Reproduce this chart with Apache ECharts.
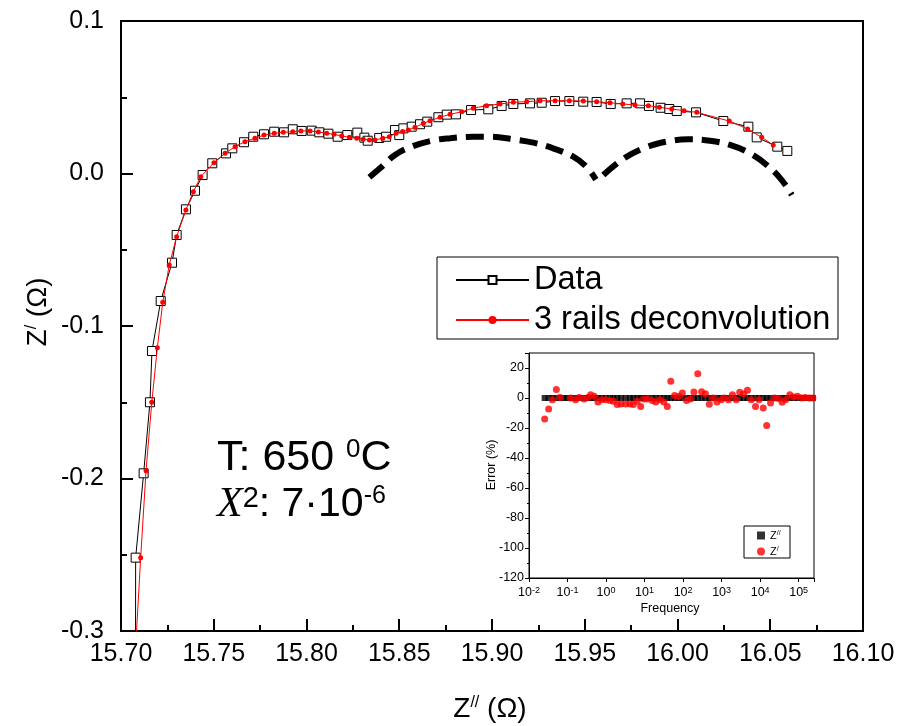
<!DOCTYPE html>
<html><head><meta charset="utf-8">
<script src="https://cdn.jsdelivr.net/npm/echarts@6/dist/echarts.min.js"></script>
<style>html,body{margin:0;padding:0;background:#fff}#c{width:908px;height:726px}</style>
</head><body><div id="c"></div>
<script>
// ---- Main Nyquist data (Z'' , Z') ----
const dataX = [15.7078,15.7079,15.7122,15.7156,15.7167,15.7214,15.7275,15.7300,15.7350,15.7399,15.7440,15.7492,15.7566,15.7600,15.7663,15.7713,15.7771,15.7826,15.7879,15.7926,15.7974,15.8028,15.8069,15.8118,15.8168,15.8220,15.8274,15.8312,15.8330,15.8392,15.8429,15.8477,15.8500,15.8522,15.8567,15.8612,15.8651,15.8711,15.8756,15.8806,15.8887,15.8980,15.9052,15.9115,15.9205,15.9268,15.9340,15.9417,15.9492,15.9564,15.9640,15.9726,15.9798,15.9846,15.9909,15.9956,15.9996,16.0100,16.0247,16.0382,16.0427,16.0538,16.0592];
const dataY = [-0.3300,-0.2519,-0.1966,-0.1500,-0.1164,-0.0836,-0.0585,-0.0403,-0.0235,-0.0113,-0.0010,0.0067,0.0132,0.0165,0.0205,0.0241,0.0257,0.0274,0.0270,0.0290,0.0279,0.0281,0.0270,0.0261,0.0241,0.0252,0.0268,0.0235,0.0215,0.0233,0.0241,0.0285,0.0252,0.0296,0.0307,0.0323,0.0340,0.0369,0.0386,0.0388,0.0416,0.0421,0.0443,0.0456,0.0460,0.0464,0.0475,0.0475,0.0471,0.0469,0.0456,0.0460,0.0460,0.0443,0.0431,0.0423,0.0410,0.0401,0.0344,0.0307,0.0237,0.0176,0.0148];
const fitX = [15.7078,15.7106,15.7135,15.7166,15.7196,15.7225,15.7260,15.7300,15.7350,15.7390,15.7430,15.7501,15.7561,15.7615,15.7668,15.7722,15.7771,15.7826,15.7875,15.7926,15.7970,15.8019,15.8064,15.8109,15.8148,15.8190,15.8231,15.8271,15.8306,15.8339,15.8369,15.8411,15.8446,15.8483,15.8518,15.8549,15.8585,15.8630,15.8666,15.8720,15.8774,15.8837,15.8899,15.8971,15.9043,15.9115,15.9187,15.9259,15.9340,15.9417,15.9492,15.9564,15.9636,15.9705,15.9771,15.9843,15.9902,15.9969,16.0035,16.0104,16.0279,16.0378,16.0454,16.0516];
const fitY = [-0.3125,-0.2519,-0.1949,-0.1500,-0.1142,-0.0845,-0.0600,-0.0414,-0.0239,-0.0119,-0.0021,0.0071,0.0132,0.0176,0.0209,0.0231,0.0252,0.0264,0.0270,0.0274,0.0279,0.0279,0.0272,0.0264,0.0257,0.0246,0.0237,0.0231,0.0224,0.0220,0.0220,0.0231,0.0241,0.0264,0.0275,0.0285,0.0303,0.0329,0.0346,0.0369,0.0388,0.0405,0.0428,0.0445,0.0456,0.0467,0.0471,0.0477,0.0477,0.0477,0.0475,0.0471,0.0464,0.0456,0.0449,0.0445,0.0434,0.0423,0.0412,0.0401,0.0344,0.0292,0.0237,0.0187];
// deconvolution arcs (dashed)
const arc1X = [15.8339,15.8396,15.8477,15.8567,15.8675,15.8774,15.8899,15.8989,15.9115,15.9223,15.9330,15.9438,15.9511,15.9560];
const arc1Y = [-0.0025,0.0034,0.0121,0.0176,0.0215,0.0231,0.0241,0.0241,0.0224,0.0202,0.0165,0.0110,0.0041,-0.0040];
const arc2X = [15.9600,15.9699,15.9816,15.9942,16.0058,16.0175,16.0283,16.0391,16.0481,16.0562,16.0616];
const arc2Y = [-0.0010,0.0089,0.0165,0.0209,0.0224,0.0215,0.0187,0.0132,0.0056,-0.0043,-0.0141];
const xTickLabels = ['15.70','15.75','15.80','15.85','15.90','15.95','16.00','16.05','16.10'];

// ---- Inset: error (%) vs frequency ----
const freq = [0.0255,0.0324,0.0403,0.0513,0.0637,0.120,0.162,0.200,0.269,0.339,0.398,0.490,0.617,0.776,0.977,1.26,1.55,1.95,2.45,3.24,4.17,5.13,6.46,7.94,9.55,11.7,15.8,19.5,25.1,31.6,38.9,47.9,60.3,77.6,95.5,123,155,191,240,302,380,479,603,759,977,1175,1514,1905,2399,2951,3715,4677,5888,7586,9333,12023,14791,18621,23442,30200,37154,45709,58884,74131,93325,120226,147911,190546,234423];
const errZp = [-14,-7.3,-1.1,5.6,0.4,0,-1.1,0.4,-0.7,0.4,2.2,1.1,-2.7,-1.1,-1.1,-1.6,-2.2,-4.4,-4,-4,-4,-4.4,-2.2,-5.6,-0.7,-0.7,-1.6,-2.7,-1.1,-2.7,-5.6,11.1,1.6,1.1,3.3,-1.6,-0.7,4,16.2,4.2,2.9,-4.2,0,-2.7,-1.1,0,-1.1,2.2,-1.1,3.8,2.7,5.1,-1.1,-5.6,-1.1,-6.7,-18.4,-3.3,0,-0.4,-2.9,-1.1,2.2,0.7,1.1,0,0.4,0,0];
const freqZpp = [0.0255,0.0324,0.0403,0.0513,0.0637,0.079,0.098,0.120,0.162,0.200,0.269,0.339,0.398,0.490,0.617,0.776,0.977,1.26,1.55,1.95,2.45,3.24,4.17,5.13,6.46,7.94,9.55,11.7,15.8,19.5,25.1,31.6,38.9,47.9,60.3,77.6,95.5,123,155,191,240,302,380,479,603,759,977,1175,1514,1905,2399,2951,3715,4677,5888,7586,9333,12023,14791,18621,23442,30200,37154,45709,58884,74131,93325,120226,147911,190546,234423];
const errZpp = [0,0,0,0,0,0,0,0,0,0,0,0,0,0,0,0,0,0,0,0,0,0,0,0,0,0,0,0,0,0,0,0,0,0,0,0,0,0,0,0,0,0,0,0,0,0,0,0,0,0,0,0,0,0,0,0,0,0,0,0,0,0,0,0,0,0,0,0,0,0,0];

const F = "'Liberation Sans', Arial, sans-serif";
const pair = (xs, ys) => xs.map((x, i) => [x, ys[i]]);

const chart = echarts.init(document.getElementById('c'), null, {renderer: 'canvas'});
const mainTick = {color: '#000', width: 2};
const option = {
  animation: false,
  backgroundColor: '#fff',
  grid: [
    {left: 121, top: 21, width: 742, height: 610, show: true, borderColor: '#000', borderWidth: 2},
    {left: 529, top: 353, width: 285, height: 225, show: true, borderColor: '#000', borderWidth: 1, backgroundColor: '#fff'}
  ],
  xAxis: [
    {type: 'value', gridIndex: 0, min: 15.70, max: 16.10, interval: 0.05,
     axisLine: {show: true, onZero: false, lineStyle: mainTick},
     axisTick: {show: true, inside: true, length: 12, lineStyle: mainTick},
     minorTick: {show: true, splitNumber: 2, length: 6, lineStyle: mainTick},
     splitLine: {show: false},
     axisLabel: {color: '#000', fontSize: 25, fontFamily: F, margin: 11,
       formatter: v => xTickLabels[Math.round((v - 15.70) / 0.05)] || ''}},
    {type: 'log', gridIndex: 1, logBase: 10, min: 0.01, max: 250000,
     axisLine: {show: true, onZero: false, lineStyle: {color: '#000', width: 1}},
     axisTick: {show: true, inside: false, length: 4, lineStyle: {color: '#000'}},
     splitLine: {show: false},
     axisLabel: {color: '#000', fontSize: 12.5, fontFamily: F, margin: 8,
       formatter: v => { const l = Math.log10(v); const e = Math.round(l); if (Math.abs(l - e) > 1e-3) return ''; return '10{s|' + e + '}'; },
       rich: {s: {fontSize: 9, fontFamily: F, verticalAlign: 'top', lineHeight: 9}}}}
  ],
  yAxis: [
    {type: 'value', gridIndex: 0, min: -0.3, max: 0.1, interval: 0.1,
     axisLine: {show: true, onZero: false, lineStyle: mainTick},
     axisTick: {show: true, inside: true, length: 12, lineStyle: mainTick},
     minorTick: {show: true, splitNumber: 2, length: 6, lineStyle: mainTick},
     splitLine: {show: false},
     axisLabel: {color: '#000', fontSize: 25, fontFamily: F, margin: 17,
       formatter: v => Math.abs(v) < 1e-9 ? '0.0' : v.toFixed(1)}},
    {type: 'value', gridIndex: 1, min: -120, max: 30, interval: 20,
     axisLine: {show: true, onZero: false, lineStyle: {color: '#000', width: 1}},
     axisTick: {show: true, inside: false, length: 4, lineStyle: {color: '#000'}},
     minorTick: {show: true, splitNumber: 2, length: 2, lineStyle: {color: '#000'}},
     splitLine: {show: false},
     axisLabel: {color: '#000', fontSize: 12.5, fontFamily: F, margin: 5,
       formatter: v => v > 25 ? '' : String(v)}}
  ],
  legend: [
    {data: ['Data', '3 rails deconvolution'], orient: 'vertical', left: 455, top: 263, z: 20,
     itemWidth: 73, itemHeight: 10, itemGap: 6, padding: 0, selectedMode: false,
     textStyle: {fontSize: 32.5, fontFamily: F, color: '#000', lineHeight: 34}},
    {data: ['Zpp', 'Zp'], orient: 'vertical', left: 757, top: 530, z: 20,
     itemWidth: 8, itemHeight: 8, itemGap: 5, padding: 0, selectedMode: false,
     formatter: n => n === 'Zpp' ? 'Z{s|//}' : 'Z{s|/}',
     textStyle: {fontSize: 11, fontFamily: F, color: '#000',
       rich: {s: {fontSize: 7, fontFamily: F, verticalAlign: 'top', lineHeight: 7}}}}
  ],
  graphic: [
    {type: 'rect', shape: {x: 437, y: 257, width: 401, height: 82}, style: {fill: 'none', stroke: '#000', lineWidth: 1}, z: 10},
    {type: 'rect', shape: {x: 744, y: 526, width: 46, height: 32}, style: {fill: 'none', stroke: '#000', lineWidth: 1}, z: 10},
    {type: 'text', x: 490, y: 709, z: 10, style: {text: 'Z{s|//} (Ω)', fontSize: 28, fontFamily: F, fill: '#000', align: 'center', verticalAlign: 'middle',
      rich: {s: {fontSize: 16, fontFamily: F, verticalAlign: 'top', lineHeight: 16}}}},
    {type: 'text', x: 38, y: 312, rotation: Math.PI / 2, z: 10, style: {text: 'Z{s|/} (Ω)', fontSize: 28, fontFamily: F, fill: '#000', align: 'center', verticalAlign: 'middle',
      rich: {s: {fontSize: 16, fontFamily: F, verticalAlign: 'top', lineHeight: 16}}}},
    {type: 'text', x: 217, y: 458, z: 10, style: {text: 'T: 650 {s|0}C', fontSize: 43, fontFamily: F, fill: '#000', align: 'left', verticalAlign: 'middle',
      rich: {s: {fontSize: 26, fontFamily: F, verticalAlign: 'top', lineHeight: 26}}}},
    {type: 'text', x: 217, y: 505, z: 10, style: {text: '{x|X}{t|2}: 7·10{s|-6}', fontSize: 41, fontFamily: F, fill: '#000', align: 'left', verticalAlign: 'middle',
      rich: {x: {fontSize: 42, fontFamily: "'Liberation Serif', 'Times New Roman', serif", fontStyle: 'italic'},
             t: {fontSize: 29, fontFamily: F, verticalAlign: 'top', lineHeight: 29},
             s: {fontSize: 25, fontFamily: F, verticalAlign: 'top', lineHeight: 25}}}},
    {type: 'text', x: 492, y: 465, rotation: Math.PI / 2, z: 10, style: {text: 'Error (%)', fontSize: 12.5, fontFamily: F, fill: '#000', align: 'center', verticalAlign: 'middle'}},
    {type: 'text', x: 670, y: 609, z: 10, style: {text: 'Frequency', fontSize: 12.5, fontFamily: F, fill: '#000', align: 'center', verticalAlign: 'middle'}}
  ],
  series: [
    {name: 'arc1', type: 'line', xAxisIndex: 0, yAxisIndex: 0, data: pair(arc1X, arc1Y), symbol: 'none', smooth: 0.4, z: 2,
     lineStyle: {color: '#000', width: 6, type: [18, 9], cap: 'butt'}},
    {name: 'arc2', type: 'line', xAxisIndex: 0, yAxisIndex: 0, data: pair(arc2X, arc2Y), symbol: 'none', smooth: 0.4, z: 2,
     lineStyle: {color: '#000', width: 6, type: [18, 9], cap: 'butt'}},
    {name: 'Data', type: 'line', xAxisIndex: 0, yAxisIndex: 0, data: pair(dataX, dataY), symbol: 'rect', symbolSize: 9, showAllSymbol: true, z: 3,
     lineStyle: {color: '#000', width: 1}, itemStyle: {color: '#fff', borderColor: '#000', borderWidth: 1}},
    {name: '3 rails deconvolution', type: 'line', xAxisIndex: 0, yAxisIndex: 0, data: pair(fitX, fitY), symbol: 'circle', symbolSize: 5, showAllSymbol: true, z: 4,
     lineStyle: {color: '#ff0000', width: 1}, itemStyle: {color: '#ff0000'}},
    {name: 'Zpp', type: 'scatter', xAxisIndex: 1, yAxisIndex: 1, data: pair(freqZpp, errZpp), symbol: 'rect', symbolSize: 6, z: 7,
     itemStyle: {color: '#000'}},
    {name: 'Zp', type: 'scatter', xAxisIndex: 1, yAxisIndex: 1, data: pair(freq, errZp), symbol: 'circle', symbolSize: 7, z: 8,
     itemStyle: {color: '#ff0000'}}
  ]
};
chart.setOption(option);
</script></body></html>
